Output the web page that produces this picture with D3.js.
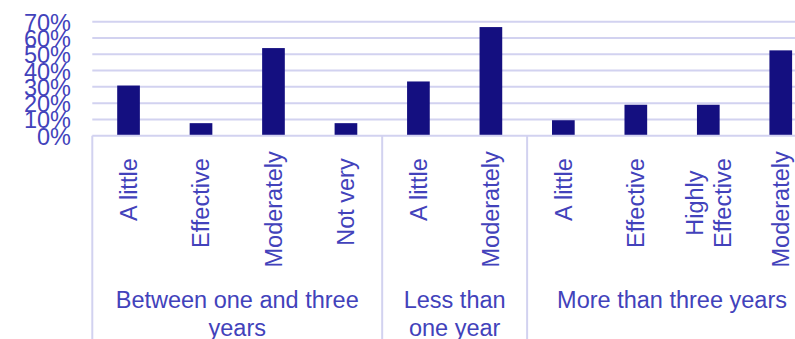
<!DOCTYPE html>
<html>
<head>
<meta charset="utf-8">
<script src="https://cdn.jsdelivr.net/npm/d3@7"></script>
<style>
  html, body { margin: 0; padding: 0; background: #fff; overflow: hidden; }
  svg { display: block; font-family: "Liberation Sans", Arial, sans-serif; }
</style>
</head>
<body>
<svg id="chart" width="795" height="339"></svg>
<script>
// Tenure groups and the effectiveness answers under each
const groups = [
  ["Between one and three", "years"],
  ["Less than", "one year"],
  ["More than three years"]
];
const groupSizes = [4, 2, 4];
const categories = [
  ["A little"], ["Effective"], ["Moderately"], ["Not very"],
  ["A little"], ["Moderately"],
  ["A little"], ["Effective"], ["Highly", "Effective"], ["Moderately"]
];
// Share of respondents (%)
const values = [30.8, 7.7, 53.8, 7.7, 33.3, 66.7, 9.5, 19.0, 19.0, 52.4];
const yTicks = [0, 10, 20, 30, 40, 50, 60, 70];

const svg = d3.select("#chart");
const textColor = "#4242bb";
const gridColor = "#d2d2f0";
const barColor = "#140f80";
const fontSize = 23.5;

const left = 92.3, step = 72.47;
const x = d3.scaleBand()
  .domain(d3.range(categories.length))
  .range([left, left + step * categories.length])
  .padding(0);
const y = d3.scaleLinear().domain([0, 70]).range([135.7, 21.7]);

// Horizontal gridlines
svg.append("g").selectAll("line").data(yTicks.filter(t => t > 0)).join("line")
  .attr("x1", left).attr("x2", 795)
  .attr("y1", d => y(d)).attr("y2", d => y(d))
  .attr("stroke", gridColor).attr("stroke-width", 2);

// Y axis labels
const yAxis = d3.axisLeft(y).tickValues(yTicks).tickFormat(d => d + "%").tickSize(0).tickPadding(0);
const yg = svg.append("g").attr("transform", "translate(71,0)").call(yAxis);
yg.select(".domain").remove();
yg.selectAll("text")
  .attr("fill", textColor).attr("font-size", fontSize)
  .attr("font-family", "Liberation Sans, Arial, sans-serif")
  .attr("dy", "0.36em");

// Bars
const bw = x.bandwidth() * 0.313;
svg.append("g").selectAll("rect").data(values).join("rect")
  .attr("x", (d, i) => x(i) + (x.bandwidth() - bw) / 2)
  .attr("width", bw)
  .attr("y", d => y(d))
  .attr("height", d => y(0) - y(d))
  .attr("fill", barColor);

// Category axis line and group separators
svg.append("line")
  .attr("x1", left).attr("x2", 795).attr("y1", y(0)).attr("y2", y(0))
  .attr("stroke", gridColor).attr("stroke-width", 2);
let idx = 0;
const bounds = [0];
groupSizes.forEach(n => { idx += n; bounds.push(idx); });
svg.append("g").selectAll("line").data(bounds.slice(0, -1)).join("line")
  .attr("x1", d => x(0) + d * step).attr("x2", d => x(0) + d * step)
  .attr("y1", y(0)).attr("y2", 339)
  .attr("stroke", gridColor).attr("stroke-width", 2);

// Rotated category labels
const lineH = fontSize * 1.2;
const catG = svg.append("g");
categories.forEach((lines, i) => {
  const cx = x(i) + x.bandwidth() / 2;
  const t = catG.append("text")
    .attr("fill", textColor).attr("font-size", fontSize)
    .attr("text-anchor", "middle");
  lines.forEach((ln, j) => {
    t.append("tspan")
      .attr("x", 0)
      .attr("y", (j - (lines.length - 1) / 2) * lineH)
      .attr("dy", "0.36em")
      .text(ln);
  });
  const len = d3.max(t.selectAll("tspan").nodes(), n => n.getComputedTextLength());
  const top = Math.min(158.3, 267.5 - len);
  const cy = top + len / 2;
  t.attr("transform", `translate(${cx},${cy}) rotate(-90)`);
});

// Group labels
const grpG = svg.append("g");
groups.forEach((lines, g) => {
  const cx = x(0) + (bounds[g] + bounds[g + 1]) / 2 * step;
  const t = grpG.append("text")
    .attr("fill", textColor).attr("font-size", fontSize)
    .attr("text-anchor", "middle");
  lines.forEach((ln, j) => {
    t.append("tspan").attr("x", cx).attr("y", 308.3 + j * 27.5).text(ln);
  });
});
</script>
</body>
</html>
